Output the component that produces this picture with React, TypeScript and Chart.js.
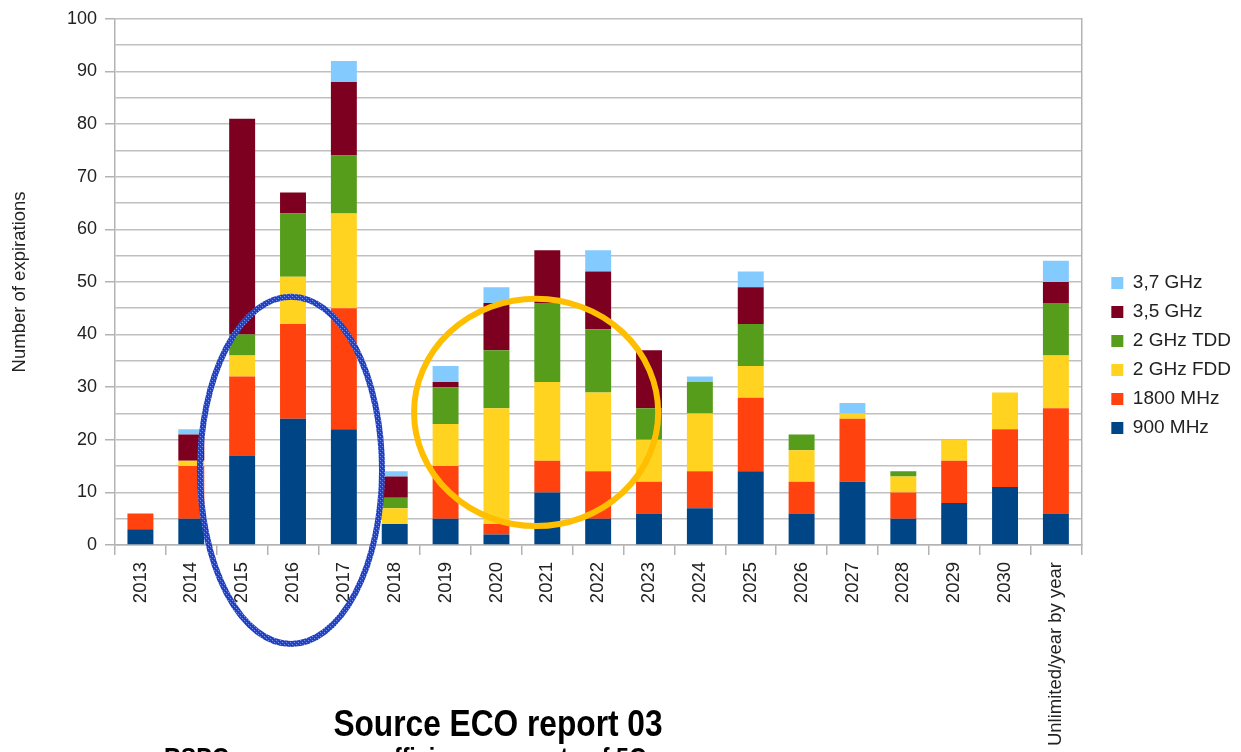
import React, { useEffect, useRef } from "react";
import { Chart, registerables } from "chart.js";

Chart.register(...registerables);

const FONT = "'Liberation Sans', Arial, sans-serif";

const categories = [
  "2013", "2014", "2015", "2016", "2017", "2018", "2019", "2020", "2021", "2022",
  "2023", "2024", "2025", "2026", "2027", "2028", "2029", "2030", "Unlimited/year by year",
];

const mhz900 = [3, 5, 17, 24, 22, 4, 5, 2, 10, 5, 6, 7, 14, 6, 12, 5, 8, 11, 6];
const mhz1800 = [3, 10, 15, 18, 23, 0, 10, 2, 6, 9, 6, 7, 14, 6, 12, 5, 8, 11, 20];
const ghz2Fdd = [0, 1, 4, 9, 18, 3, 8, 22, 15, 15, 8, 11, 6, 6, 1, 3, 4, 7, 10];
const ghz2Tdd = [0, 0, 4, 12, 11, 2, 7, 11, 15, 12, 6, 6, 8, 3, 0, 1, 0, 0, 10];
const ghz35 = [0, 5, 41, 4, 14, 4, 1, 9, 10, 11, 11, 0, 7, 0, 0, 0, 0, 0, 4];
const ghz37 = [0, 1, 0, 0, 4, 1, 3, 3, 0, 4, 0, 1, 3, 0, 2, 0, 0, 0, 4];

const seriesLabels = ["900 MHz", "1800 MHz", "2 GHz FDD", "2 GHz TDD", "3,5 GHz", "3,7 GHz"];
const seriesColors = ["#004586", "#ff420e", "#ffd320", "#579d1c", "#7e0021", "#83caff"];

const yTicksMax = 100;

// Hand-drawn highlight ellipses (category index centre, value centre, radii in categories / units)
const highlightCat = [2.96, 7.78];
const highlightValue = [14.2, 25.2];
const highlightRxCats = [1.79, 2.4];
const highlightRyUnits = [33, 21.6];
const highlightColors = ["#2846c8", "#ffbf00"];
const highlightWidths = [6, 6];
const highlightHatched = [true, false];

function makeHatch(ctx: CanvasRenderingContext2D, base: string) {
  const c = document.createElement("canvas");
  c.width = 4;
  c.height = 4;
  const g = c.getContext("2d")!;
  g.fillStyle = base;
  g.fillRect(0, 0, 4, 4);
  g.fillStyle = "#7f95e8";
  g.fillRect(0, 0, 1, 1);
  g.fillRect(2, 2, 1, 1);
  g.fillStyle = "#1630b0";
  g.fillRect(1, 3, 1, 1);
  g.fillRect(3, 1, 1, 1);
  return ctx.createPattern(c, "repeat") || base;
}

const ellipsePlugin = {
  id: "highlightEllipses",
  afterDraw(chart: any) {
    const ctx = chart.ctx;
    const xs = chart.scales.x;
    const ys = chart.scales.y;
    const cat = xs.getPixelForValue(1) - xs.getPixelForValue(0);
    const unit = ys.getPixelForValue(0) - ys.getPixelForValue(1);
    for (let i = 0; i < highlightCat.length; i++) {
      ctx.save();
      ctx.beginPath();
      ctx.ellipse(
        xs.getPixelForValue(0) + highlightCat[i] * cat,
        ys.getPixelForValue(highlightValue[i]),
        highlightRxCats[i] * cat,
        highlightRyUnits[i] * unit,
        0,
        0,
        Math.PI * 2
      );
      ctx.lineWidth = highlightWidths[i];
      ctx.strokeStyle = highlightHatched[i] ? makeHatch(ctx, highlightColors[i]) : highlightColors[i];
      ctx.stroke();
      ctx.restore();
    }
  },
};

export default function App() {
  const canvasRef = useRef<HTMLCanvasElement | null>(null);

  useEffect(() => {
    if (!canvasRef.current) return;
    Chart.defaults.font.family = FONT;
    const seriesData = [mhz900, mhz1800, ghz2Fdd, ghz2Tdd, ghz35, ghz37];
    const chart = new Chart(canvasRef.current, {
      type: "bar",
      data: {
        labels: categories,
        datasets: seriesData.map((d, i) => ({
          label: seriesLabels[i],
          data: d,
          backgroundColor: seriesColors[i],
          borderWidth: 0,
          barPercentage: 0.51,
          categoryPercentage: 1,
        })),
      },
      options: {
        responsive: false,
        animation: false,
        layout: { padding: { top: 17, left: 0, right: 0, bottom: 0 } },
        plugins: {
          tooltip: { enabled: false },
          legend: {
            position: "right",
            align: "start",
            reverse: true,
            title: { display: true, text: "", font: { size: 10 }, padding: { top: 234.5, bottom: 0 } },
            labels: {
              boxWidth: 12,
              boxHeight: 12,
              padding: 10,
              color: "#222",
              font: { family: FONT, size: 19 },
            },
          },
        },
        scales: {
          x: {
            stacked: true,
            grid: {
              display: true,
              drawOnChartArea: false,
              drawTicks: true,
              tickLength: 10,
              color: "#b3b3b3",
              lineWidth: 1.5,
              offset: true,
            },
            border: { display: true, color: "#b3b3b3", width: 1.5 },
            ticks: {
              minRotation: 90,
              maxRotation: 90,
              autoSkip: false,
              padding: 7,
              color: "#222",
              font: { family: FONT, size: 18.5 },
            },
            afterFit: (s: any) => {
              s.height = 207;
            },
          },
          y: {
            stacked: true,
            min: 0,
            max: yTicksMax,
            ticks: {
              stepSize: 5,
              autoSkip: false,
              padding: 8,
              color: "#222",
              font: { family: FONT, size: 18 },
              callback: (v: any) => (Number(v) % 10 === 0 ? String(v) : ""),
            },
            grid: {
              color: "#c0c0c0",
              lineWidth: 1.5,
              tickLength: 10,
              tickColor: (c: any) =>
                c.tick && c.tick.value % 10 === 0 ? "#b3b3b3" : "rgba(0,0,0,0)",
            },
            border: { display: true, color: "#b3b3b3", width: 1.5 },
            title: {
              display: true,
              text: "Number of expirations",
              color: "#222",
              font: { family: FONT, size: 18.5 },
              padding: { top: 9, bottom: 0 },
            },
            afterFit: (s: any) => {
              s.width = 115;
            },
          },
          y2: {
            position: "right",
            display: true,
            min: 0,
            max: yTicksMax,
            grid: { display: false },
            border: { display: true, color: "#b3b3b3", width: 1.5 },
            ticks: { display: false },
            afterFit: (s: any) => {
              s.width = 20;
            },
          },
        },
      },
      plugins: [ellipsePlugin],
    } as any);
    return () => chart.destroy();
  }, []);

  return (
    <div
      style={{
        position: "absolute",
        left: 0,
        top: 0,
        width: 1241,
        height: 752,
        overflow: "hidden",
        background: "#fff",
      }}
    >
      <canvas ref={canvasRef} width={1241} height={752} style={{ display: "block" }} />
      <div
        style={{
          position: "absolute",
          left: 498,
          top: 706,
          transform: "translateX(-50%) scaleX(0.88)",
          fontFamily: FONT,
          fontWeight: "bold",
          fontSize: 36,
          lineHeight: "36px",
          whiteSpace: "nowrap",
          color: "#000",
        }}
      >
        Source ECO report 03
      </div>
      <div
        style={{
          position: "absolute",
          left: 164,
          top: 744,
          transform: "scaleX(0.83)",
          transformOrigin: "left top",
          fontFamily: FONT,
          fontWeight: "bold",
          fontSize: 28,
          lineHeight: "28px",
          whiteSpace: "nowrap",
          color: "#000",
        }}
      >
        RSPG summary on efficiency aspects of 5G
      </div>
    </div>
  );
}
